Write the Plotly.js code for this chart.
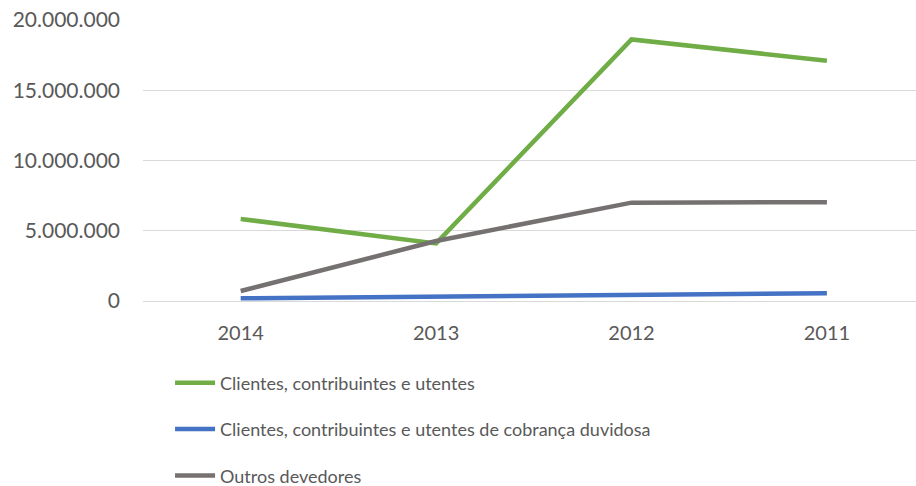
<!DOCTYPE html>
<html><head><meta charset="utf-8">
<script src="https://cdn.plot.ly/plotly-3.0.1.min.js"></script>
<style>html,body{margin:0;padding:0;background:#fff}#chart{width:916px;height:486px}</style>
</head><body><div id="chart"></div>
<script>
const years = ["2014", "2013", "2012", "2011"];
const clientes = [5840000, 4100000, 18620000, 17100000];
const cobrancaDuvidosa = [190000, 300000, 420000, 550000];
const outrosDevedores = [710000, 4270000, 7000000, 7030000];
const seriesNames = ["Clientes, contribuintes e utentes", "Clientes, contribuintes e utentes de cobrança duvidosa", "Outros devedores"];
const yTicks = [0, 5000000, 10000000, 15000000, 20000000];

const font = "Lato, 'Open Sans', sans-serif";
const mk = (y, name, color, g) => ({
  x: years, y: y, name: name, type: 'scatter', mode: 'lines', legendgroup: g,
  line: {color: color, width: 4.5}
});
const data = [
  mk(clientes, seriesNames[0], '#70AD47', 'a'),
  mk(cobrancaDuvidosa, seriesNames[1], '#4472C4', 'b'),
  mk(outrosDevedores, seriesNames[2], '#767171', 'c')
];
const layout = {
  width: 916, height: 486,
  margin: {l: 143, r: 0, t: 20, b: 185, autoexpand: false},
  paper_bgcolor: '#fff', plot_bgcolor: '#fff',
  separators: ',.',
  font: {family: font, size: 18, color: '#595959'},
  showlegend: true,
  legend: {x: 0.035, xanchor: 'left', y: -0.226, yanchor: 'top',
    orientation: 'v', itemwidth: 40,
    tracegroupgap: 20, font: {family: font, size: 18, color: '#595959'}},
  xaxis: {type: 'category', range: [-0.5, 3.456], showgrid: false, zeroline: false,
    showline: false, ticks: 'outside', ticklen: 14, tickcolor: 'rgba(0,0,0,0)',
    tickfont: {family: font, size: 20, color: '#595959'}},
  yaxis: {range: [0, 20000000], tickvals: yTicks, tickformat: ',d', showgrid: true,
    gridcolor: '#d9d9d9', gridwidth: 1, zeroline: true, zerolinecolor: '#d9d9d9', zerolinewidth: 1,
    showline: false, ticklabelstandoff: 22,
    tickfont: {family: font, size: 21, color: '#595959'}}
};
Plotly.newPlot('chart', data, layout, {displayModeBar: false, staticPlot: true});
</script></body></html>
